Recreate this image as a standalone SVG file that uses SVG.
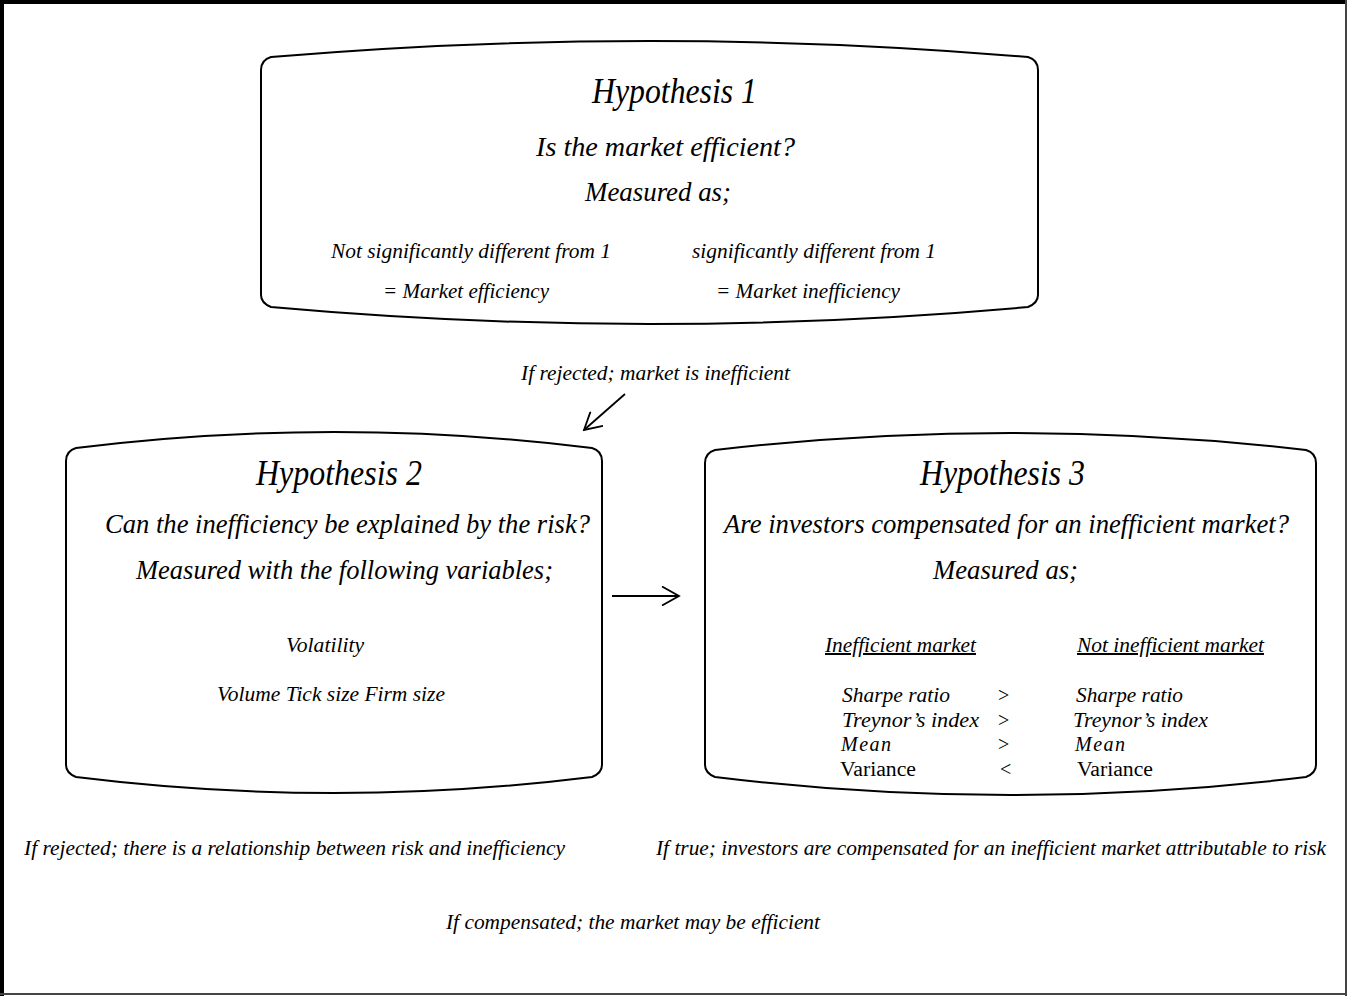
<svg xmlns="http://www.w3.org/2000/svg" width="1347" height="996" viewBox="0 0 1347 996">
<style>
text{font-family:"Liberation Serif","Times New Roman",serif;font-style:italic;fill:#000}
.h{font-size:35px}
.q{font-size:28px}
.s{font-size:20px}
.t{font-size:20px}
.n{font-style:normal}
.box{fill:#fff;stroke:#000;stroke-width:2}
.con{stroke:#000;stroke-width:1.8;fill:none}
</style>
<defs>
<marker id="arr" viewBox="0 0 20 20" refX="18" refY="10" markerWidth="20" markerHeight="20" markerUnits="userSpaceOnUse" orient="auto">
<path d="M1,0.5 L18,10 L1,19.5" fill="none" stroke="#000" stroke-width="1.8"/>
</marker>
</defs>
<rect x="0" y="0" width="1347" height="996" fill="#fff"/>
<g id="frame">
<rect x="0" y="0" width="1347" height="4" fill="#000"/>
<rect x="0" y="0" width="4" height="996" fill="#000"/>
<rect x="1345" y="0" width="2" height="996" fill="#444"/>
<rect x="0" y="993" width="1347" height="2" fill="#444"/>
</g>
<g id="hypothesis1">
<path class="box" d="M261,70 L261,295 Q261,303 271,307 Q649.5,341 1028,307 Q1038,303 1038,295 L1038,70 Q1038,60 1028,57 Q649.5,25 271,57 Q261,60 261,70 Z"/>
<text class="h" x="592" y="103" textLength="165" lengthAdjust="spacingAndGlyphs">Hypothesis 1</text>
<text class="q" x="536" y="156" textLength="259" lengthAdjust="spacingAndGlyphs">Is the market efficient?</text>
<text class="q" x="585" y="201" textLength="146" lengthAdjust="spacingAndGlyphs">Measured as;</text>
<text class="s" x="331" y="258" textLength="280" lengthAdjust="spacingAndGlyphs">Not significantly different from 1</text>
<text class="s" x="692" y="258" textLength="244" lengthAdjust="spacingAndGlyphs">significantly different from 1</text>
<text class="s" x="383" y="298" textLength="166" lengthAdjust="spacingAndGlyphs">= Market efficiency</text>
<text class="s" x="716" y="298" textLength="184" lengthAdjust="spacingAndGlyphs">= Market inefficiency</text>
</g>
<g id="hypothesis2">
<path class="box" d="M66,461 L66,765 Q66,773 76,777 Q334,809 592,777 Q602,773 602,765 L602,461 Q602,451 592,448 Q334,416 76,448 Q66,451 66,461 Z"/>
<text class="h" x="256" y="485" textLength="166" lengthAdjust="spacingAndGlyphs">Hypothesis 2</text>
<text class="q" x="105" y="533" textLength="485" lengthAdjust="spacingAndGlyphs">Can the inefficiency be explained by the risk?</text>
<text class="q" x="136" y="579" textLength="417" lengthAdjust="spacingAndGlyphs">Measured with the following variables;</text>
<text class="s" x="286" y="652" textLength="78" lengthAdjust="spacingAndGlyphs">Volatility</text>
<text class="s" x="217" y="701" textLength="228" lengthAdjust="spacingAndGlyphs">Volume Tick size Firm size</text>
</g>
<g id="hypothesis3">
<path class="box" d="M705,463 L705,765 Q705,773 715,777 Q1010.5,813 1306,777 Q1316,773 1316,765 L1316,463 Q1316,453 1306,450 Q1010.5,416 715,450 Q705,453 705,463 Z"/>
<text class="h" x="920" y="485" textLength="165" lengthAdjust="spacingAndGlyphs">Hypothesis 3</text>
<text class="q" x="724" y="533" textLength="565" lengthAdjust="spacingAndGlyphs">Are investors compensated for an inefficient market?</text>
<text class="q" x="933" y="579" textLength="145" lengthAdjust="spacingAndGlyphs">Measured as;</text>
<text class="s" x="825" y="652" textLength="151" lengthAdjust="spacingAndGlyphs" text-decoration="underline">Inefficient market</text>
<text class="s" x="1077" y="652" textLength="187" lengthAdjust="spacingAndGlyphs" text-decoration="underline">Not inefficient market</text>
<text class="t" x="842" y="702" textLength="108" lengthAdjust="spacingAndGlyphs">Sharpe ratio</text>
<text class="t n" x="998" y="702">&gt;</text>
<text class="t" x="1076" y="702" textLength="107" lengthAdjust="spacingAndGlyphs">Sharpe ratio</text>
<text class="t" x="842" y="727" textLength="137" lengthAdjust="spacingAndGlyphs">Treynor’s index</text>
<text class="t n" x="998" y="727">&gt;</text>
<text class="t" x="1073" y="727" textLength="135" lengthAdjust="spacingAndGlyphs">Treynor’s index</text>
<text class="t" x="841" y="751" textLength="50" lengthAdjust="spacing">Mean</text>
<text class="t n" x="998" y="751">&gt;</text>
<text class="t" x="1075" y="751" textLength="50" lengthAdjust="spacing">Mean</text>
<text class="t n" x="840" y="776" textLength="76" lengthAdjust="spacingAndGlyphs">Variance</text>
<text class="t n" x="1000" y="776">&lt;</text>
<text class="t n" x="1077" y="776" textLength="76" lengthAdjust="spacingAndGlyphs">Variance</text>
</g>
<g id="connectors">
<path class="con" d="M625,394 L584,430" marker-end="url(#arr)"/>
<path class="con" d="M612,596 L679,596" marker-end="url(#arr)"/>
</g>
<g id="labels">
<text class="t" x="521" y="380" textLength="269" lengthAdjust="spacingAndGlyphs">If rejected; market is inefficient</text>
<text class="t" x="24" y="855" textLength="541" lengthAdjust="spacingAndGlyphs">If rejected; there is a relationship between risk and inefficiency</text>
<text class="t" x="656" y="855" textLength="670" lengthAdjust="spacingAndGlyphs">If true; investors are compensated for an inefficient market attributable to risk</text>
<text class="t" x="446" y="929" textLength="374" lengthAdjust="spacingAndGlyphs">If compensated; the market may be efficient</text>
</g>
</svg>
